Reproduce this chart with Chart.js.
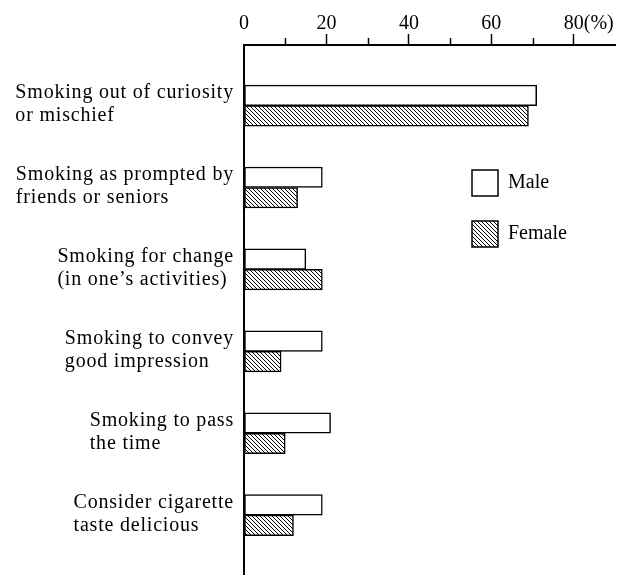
<!DOCTYPE html>
<html lang="en">
<head>
  <meta charset="UTF-8">
  <script src="https://cdn.jsdelivr.net/npm/chart.js"></script>
  <title>smoking reasons</title>
</head>
<style>
  body{
    margin: 0;
    background: #fff;
  }
</style>
<body>
  <canvas id="barchart" width="630" height="575"></canvas>
  <script>
    // categories (one array per line of the label)
    const reasons = [
      ['Smoking out of curiosity', 'or mischief'],
      ['Smoking as prompted by', 'friends or seniors'],
      ['Smoking for change', '(in one\u2019s activities)'],
      ['Smoking to convey', 'good impression'],
      ['Smoking to pass', 'the time'],
      ['Consider cigarette', 'taste delicious']
    ];
    const male = [71, 19, 15, 19, 21, 19];
    const female = [69, 13, 19, 9, 10, 12];
    const xTicks = [0, 20, 40, 60, 80];
    const xMinorTicks = [10, 30, 50, 70];
    const unitText = '(%)';

    const FONT = '"Liberation Serif", "DejaVu Serif", serif';

    // hatch pattern for Female
    function makeHatch() {
      const c = document.createElement('canvas');
      c.width = 4; c.height = 4;
      const g = c.getContext('2d');
      g.fillStyle = '#fff';
      g.fillRect(0, 0, 4, 4);
      g.strokeStyle = '#000';
      g.lineWidth = 1;
      g.beginPath();
      g.moveTo(-1, -1); g.lineTo(5, 5);
      g.moveTo(-1, 3); g.lineTo(1, 5);
      g.moveTo(3, -1); g.lineTo(5, 1);
      g.stroke();
      return g.createPattern(c, 'repeat');
    }
    const hatch = makeHatch();

    const extras = {
      id: 'extras',
      afterDraw(chart) {
        const ctx = chart.ctx;
        const area = chart.chartArea;
        const xs = chart.scales.x;
        const ys = chart.scales.y;
        ctx.save();
        ctx.strokeStyle = '#000';

        // vertical axis line
        ctx.lineWidth = 2;
        ctx.beginPath();
        ctx.moveTo(area.left, area.top - 1);
        ctx.lineTo(area.left, area.bottom);
        ctx.stroke();

        // minor ticks
        ctx.lineWidth = 1.5;
        xMinorTicks.forEach(v => {
          const px = Math.round(xs.getPixelForValue(v)) + 0.5;
          ctx.beginPath();
          ctx.moveTo(px, area.top);
          ctx.lineTo(px, area.top - 7);
          ctx.stroke();
        });

        // (%) after the last tick label
        ctx.fillStyle = '#000';
        ctx.font = '20px ' + FONT;
        ctx.textBaseline = 'alphabetic';
        ctx.textAlign = 'left';
        const last = xTicks[xTicks.length - 1];
        const lw = ctx.measureText(String(last)).width;
        ctx.fillText(unitText, xs.getPixelForValue(last) + lw / 2, 29);

        // category labels: block right aligned to the axis, lines left aligned
        ctx.font = '20px ' + FONT;
        ctx.letterSpacing = '0.8px';
        const lineH = 23;
        reasons.forEach((lines, i) => {
          const cy = ys.getPixelForValue(i);
          const maxW = Math.max(...lines.map(l => ctx.measureText(l).width));
          const x0 = area.left - 10 - maxW;
          const y0 = cy - (lines.length - 1) * lineH / 2;
          ctx.textBaseline = 'middle';
          lines.forEach((l, j) => ctx.fillText(l, x0, y0 + j * lineH - 1));
        });
        ctx.letterSpacing = '0px';

        // legend
        const items = chart.data.datasets;
        items.forEach((ds, i) => {
          const bx = 472, by = 170 + i * 51;
          ctx.fillStyle = ds.backgroundColor;
          ctx.fillRect(bx, by, 26, 26);
          ctx.lineWidth = 1.5;
          ctx.strokeRect(bx, by, 26, 26);
          ctx.fillStyle = '#000';
          ctx.font = '20px ' + FONT;
          ctx.textBaseline = 'middle';
          ctx.fillText(ds.label, bx + 36, by + 13);
        });
        ctx.restore();
      }
    };

    const config = {
      type: 'bar',
      data: {
        datasets: [{
          label: 'Male',
          data: male.map((v, i) => ({x: v, y: i})),
          backgroundColor: '#fff',
          borderColor: '#000',
          borderWidth: 1.5,
          borderSkipped: false
        }, {
          label: 'Female',
          data: female.map((v, i) => ({x: v, y: i})),
          backgroundColor: hatch,
          borderColor: '#000',
          borderWidth: 1.5,
          borderSkipped: false
        }]
      },
      options: {
        indexAxis: 'y',
        responsive: false,
        animation: false,
        barThickness: 20.5,
        layout: {
          padding: {left: 244, right: 15, top: 0, bottom: 0}
        },
        plugins: {
          legend: {display: false},
          tooltip: {enabled: false}
        },
        scales: {
          x: {
            type: 'linear',
            position: 'top',
            min: 0,
            max: 90,
            afterBuildTicks: s => { s.ticks = xTicks.map(v => ({value: v})); },
            afterFit: s => { s.height = 45; },
            ticks: {
              color: '#000',
              padding: -2,
              font: {family: FONT, size: 20},
              maxRotation: 0,
              callback: v => String(v)
            },
            grid: {
              drawOnChartArea: false,
              tickLength: 11,
              tickWidth: 1.5,
              tickColor: c => (c.tick && c.tick.value === 0) ? 'rgba(0,0,0,0)' : '#000'
            },
            border: {color: '#000', width: 2}
          },
          y: {
            type: 'linear',
            display: false,
            reverse: true,
            offset: false,
            bounds: 'data',
            min: -0.74,
            max: 5.73,
            afterBuildTicks: s => { s.ticks = reasons.map((r, i) => ({value: i})); }
          }
        }
      },
      plugins: [extras]
    };

    const mychart = new Chart(document.getElementById('barchart'), config);
  </script>
</body>
</html>
